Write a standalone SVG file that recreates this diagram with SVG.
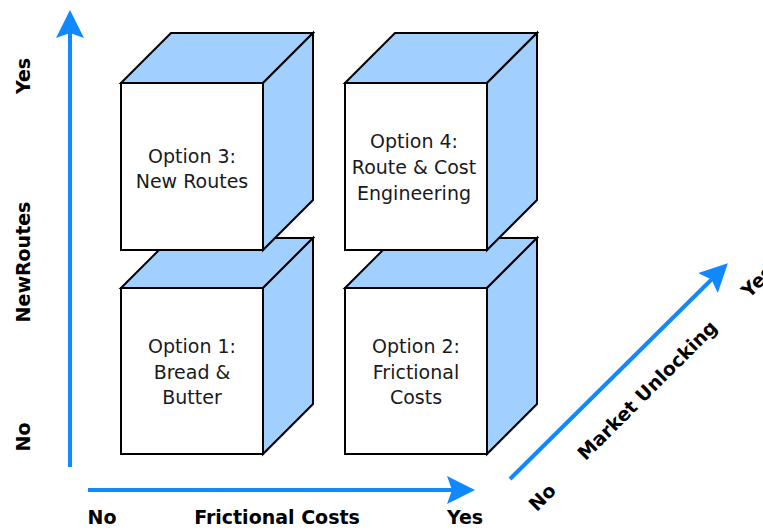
<svg xmlns="http://www.w3.org/2000/svg" width="763" height="532" viewBox="0 0 763 532">
<style>
.top{fill:#A2D0FE;stroke:#000;stroke-width:2;stroke-linejoin:miter}
.side{fill:#A2D0FE;stroke:#000;stroke-width:2;stroke-linejoin:miter}
.front{fill:#fff;stroke:#000;stroke-width:2}
.lbl{font-family:"DejaVu Sans",Verdana,sans-serif;font-size:19px;fill:#1a1a1a;text-anchor:middle}
.ax{font-family:"DejaVu Sans",Verdana,sans-serif;font-size:19px;font-weight:bold;fill:#000;text-anchor:middle}
.arr{stroke:#1088FF;stroke-width:4;fill:none}
</style>
<defs>
<marker id="ah" viewBox="0 0 28 28" refX="5" refY="14" markerWidth="28" markerHeight="28" markerUnits="userSpaceOnUse" orient="auto">
<path d="M0,0 L28,14 L0,28 L5,14 Z" fill="#1088FF"/>
</marker>
</defs>
<rect width="763" height="532" fill="#fff"/>

<g id="option1">
<polygon class="top" points="121,288 171,238 313,238 263,288"/>
<polygon class="side" points="263,288 313,238 313,404 263,454"/>
<rect class="front" x="121" y="288" width="142" height="166"/>
<text class="lbl" x="192" y="353">Option 1:</text>
<text class="lbl" x="192" y="379">Bread &amp;</text>
<text class="lbl" x="192" y="404">Butter</text>
</g>

<g id="option2">
<polygon class="top" points="345,288 395,238 537,238 487,288"/>
<polygon class="side" points="487,288 537,238 537,404 487,454"/>
<rect class="front" x="345" y="288" width="142" height="166"/>
<text class="lbl" x="416" y="353">Option 2:</text>
<text class="lbl" x="416" y="379">Frictional</text>
<text class="lbl" x="416" y="404">Costs</text>
</g>

<g id="option3">
<polygon class="top" points="121,83 171,33 313,33 263,83"/>
<polygon class="side" points="263,83 313,33 313,200 263,250"/>
<rect class="front" x="121" y="83" width="142" height="167"/>
<text class="lbl" x="192" y="163">Option 3:</text>
<text class="lbl" x="192" y="188">New Routes</text>
</g>

<g id="option4">
<polygon class="top" points="345,83 395,33 537,33 487,83"/>
<polygon class="side" points="487,83 537,33 537,200 487,250"/>
<rect class="front" x="345" y="83" width="142" height="167"/>
<text class="lbl" x="414" y="148">Option 4:</text>
<text class="lbl" x="414" y="174">Route &amp; Cost</text>
<text class="lbl" x="414" y="200">Engineering</text>
</g>

<g id="connectors">
<line class="arr" x1="70" y1="467" x2="70" y2="33" marker-end="url(#ah)"/>
<line class="arr" x1="88" y1="490" x2="452" y2="490" marker-end="url(#ah)"/>
<line class="arr" x1="510" y1="479" x2="711.5" y2="279.5" marker-end="url(#ah)"/>
</g>

<g id="axis-labels">
<text class="ax" transform="translate(30,76) rotate(-90)">Yes</text>
<text class="ax" transform="translate(30,262) rotate(-90)">NewRoutes</text>
<text class="ax" transform="translate(30,437) rotate(-90)">No</text>
<text class="ax" x="102" y="524">No</text>
<text class="ax" x="277" y="524">Frictional Costs</text>
<text class="ax" x="465" y="524">Yes</text>
<text class="ax" transform="translate(542,497) rotate(-45)" y="7">No</text>
<text class="ax" transform="translate(647,390) rotate(-45)" y="7">Market Unlocking</text>
<text class="ax" transform="translate(757,281) rotate(-45)" y="7">Yes</text>
</g>
</svg>
